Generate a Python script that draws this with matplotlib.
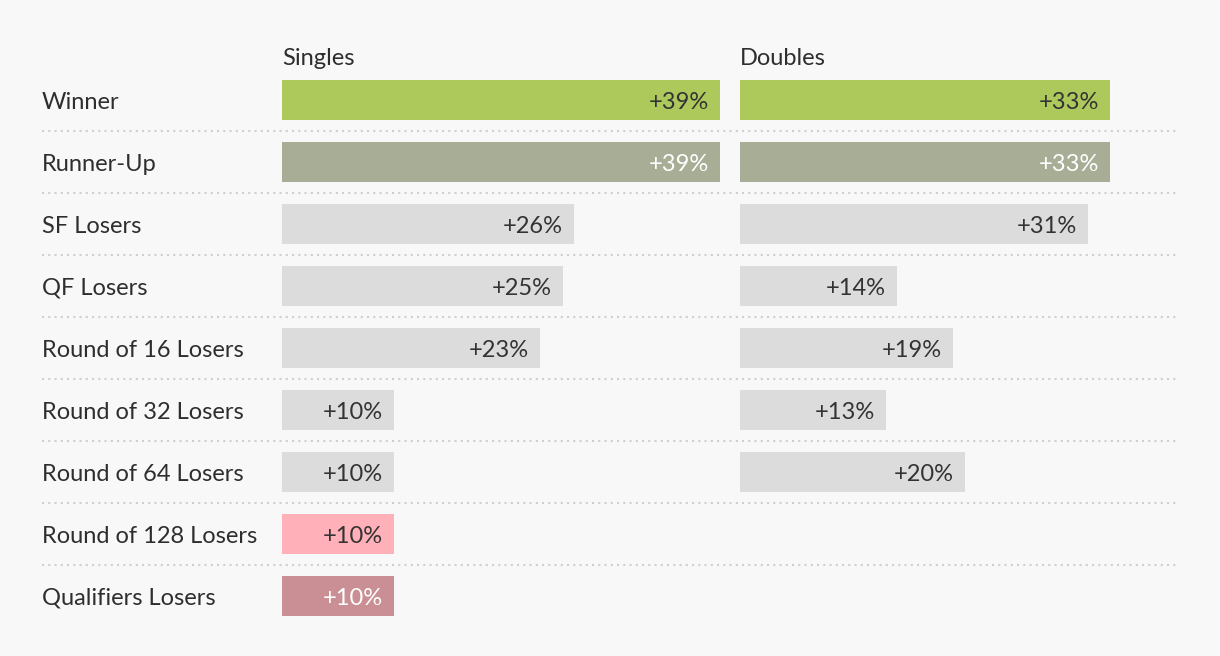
import matplotlib.pyplot as plt

plt.rcParams['font.family'] = ['Lato', 'DejaVu Sans']

rounds = ["Winner", "Runner-Up", "SF Losers", "QF Losers", "Round of 16 Losers",
          "Round of 32 Losers", "Round of 64 Losers", "Round of 128 Losers",
          "Qualifiers Losers"]
singles = [39, 39, 26, 25, 23, 10, 10, 10, 10]
doubles = [33, 33, 31, 14, 19, 13, 20]

bar_colors = ["#adc95c", "#a8ad96", "#dcdcdc", "#dcdcdc", "#dcdcdc",
              "#dcdcdc", "#dcdcdc", "#ffb0b8", "#c98f94"]
text_colors = ["#333333", "white", "#333333", "#333333", "#333333",
               "#333333", "#333333", "#333333", "white"]

bg = "#f8f8f8"
W, H = 1220, 656
fig = plt.figure(figsize=(W / 100, H / 100), dpi=100, facecolor=bg)

top, bottom = 69, 627
n = len(rounds)
fs = 17

# background axis for labels and separators
axb = fig.add_axes([42 / W, 1 - bottom / H, (1178 - 42) / W, (bottom - top) / H])
axb.set_xlim(0, 1)
axb.set_ylim(n - 0.5, -0.5)
axb.axis("off")
for i in range(n - 1):
    axb.plot([0, 1], [i + 0.5, i + 0.5], color="#cfcfcf", lw=1.5,
             linestyle=(0, (1, 2)))
for i, r in enumerate(rounds):
    axb.annotate(r, (0, i), xytext=(0, -1.5), textcoords="offset points",
                 ha="left", va="center", fontsize=fs, color="#2e2e2e")


def panel(left, vals, title):
    ax = fig.add_axes([left / W, 1 - bottom / H, 449 / W, (bottom - top) / H])
    ax.set_xlim(0, 40)
    ax.set_ylim(n - 0.5, -0.5)
    ax.axis("off")
    ax.patch.set_alpha(0)
    for i, v in enumerate(vals):
        ax.barh(i, v, height=40 / 62, color=bar_colors[i], left=0)
        ax.annotate("+%d%%" % v, (v, i), xytext=(-8, -1.5), textcoords="offset points",
                    ha="right", va="center", fontsize=fs, color=text_colors[i])
    ax.annotate(title, (0, -0.71), xytext=(0, -1.5), textcoords="offset points",
                ha="left", va="center", fontsize=fs, color="#2e2e2e",
                annotation_clip=False)


panel(282, singles, "Singles")
panel(740, doubles, "Doubles")

fig.savefig("out.png", dpi=100, facecolor=bg)
